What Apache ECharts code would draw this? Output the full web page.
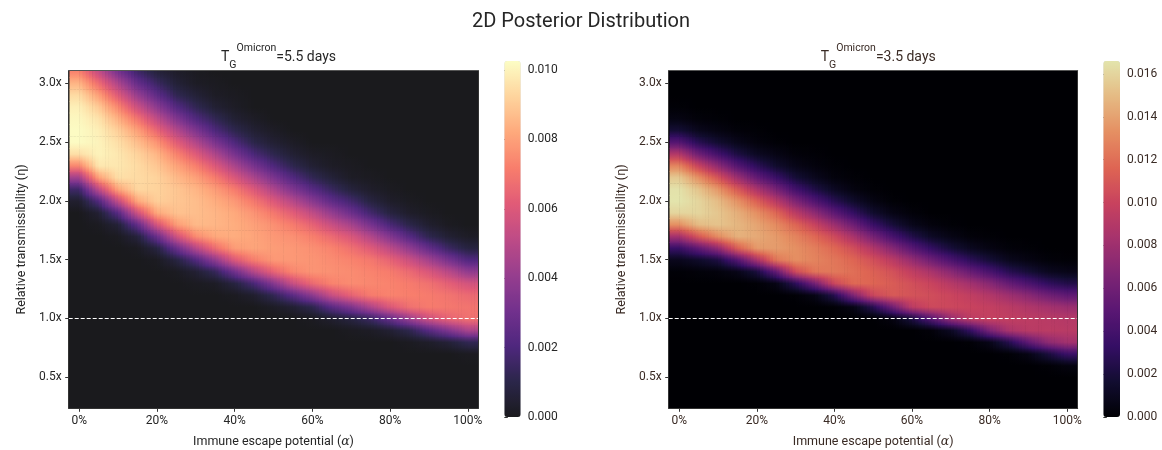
<!DOCTYPE html>
<html><head><meta charset="utf-8">
<script src="https://cdn.jsdelivr.net/npm/echarts@6/dist/echarts.min.js"></script>
<style>html,body{margin:0;padding:0;background:#fff}#chart{width:1162px;height:450px}</style>
</head><body><div id="chart"></div>
<script>
// ---------- data ----------
const mainTitle = '2D Posterior Distribution';
const panelDays = ['5.5', '3.5'];
const escapeLevels = [0,0.05,0.1,0.15,0.2,0.25,0.3,0.35,0.4,0.45,0.5,0.55,0.6,0.65,0.7,0.75,0.8,0.85,0.9,0.95,1.0];
const etaLevels = [0.3,0.4,0.5,0.6,0.7,0.8,0.9,1.0,1.1,1.2,1.3,1.4,1.5,1.6,1.7,1.8,1.9,2.0,2.1,2.2,2.3,2.4,2.5,2.6,2.7,2.8,2.9,3.0,3.1];
const xTickValues = [0,0.2,0.4,0.6,0.8,1.0];
const yTickValues = [0.5,1.0,1.5,2.0,2.5,3.0];
const colorbarTicksLeft = [0,0.002,0.004,0.006,0.008,0.010];
const colorbarTicksRight = [0,0.002,0.004,0.006,0.008,0.010,0.012,0.014,0.016];
const colorbarMaxLeft = 0.01026;
const colorbarMaxRight = 0.0166;
const referenceEta = 1.0;
const DENSITY_UNIT = 1e-4;
// posterior density (units of 1e-4), one column per escape level, rows follow etaLevels
const densityLeft = [
[0,0,0,0,0,0,0,0,0,0,0,0,0,0,0,0,0,4,16,44,74,95,102,102,101,99,94,85,73],
[0,0,0,0,0,0,0,0,0,0,0,0,0,0,0,1,5,21,51,80,97,100,100,99,96,90,80,67,53],
[0,0,0,0,0,0,0,0,0,0,0,0,0,0,1,6,23,53,81,95,97,97,95,91,84,74,61,47,32],
[0,0,0,0,0,0,0,0,0,0,0,0,0,1,7,26,56,82,93,94,94,92,87,80,69,55,41,27,16],
[0,0,0,0,0,0,0,0,0,0,0,0,1,8,28,58,82,91,92,92,89,85,77,65,52,38,25,15,7],
[0,0,0,0,0,0,0,0,0,0,0,1,8,28,56,79,88,89,89,86,81,73,62,49,35,22,12,6,3],
[0,0,0,0,0,0,0,0,0,0,1,5,21,49,75,86,87,87,85,80,72,61,48,34,21,12,6,2,1],
[0,0,0,0,0,0,0,0,0,0,2,13,39,67,82,85,85,83,79,71,60,47,33,20,12,5,2,1,0],
[0,0,0,0,0,0,0,0,0,1,8,30,60,79,83,83,82,78,71,59,46,32,20,11,5,2,1,0,0],
[0,0,0,0,0,0,0,0,0,4,19,49,72,81,81,80,77,70,60,46,32,19,10,5,2,0,0,0,0],
[0,0,0,0,0,0,0,0,2,12,36,64,78,79,78,76,70,60,47,33,20,11,5,2,0,0,0,0,0],
[0,0,0,0,0,0,0,0,5,24,54,74,78,78,76,71,62,49,34,21,11,5,2,0,0,0,0,0,0],
[0,0,0,0,0,0,0,1,11,38,66,77,77,76,72,64,52,37,23,12,5,2,0,0,0,0,0,0,0],
[0,0,0,0,0,0,0,4,24,54,73,76,75,73,66,54,40,25,14,6,2,1,0,0,0,0,0,0,0],
[0,0,0,0,0,0,1,8,34,64,75,75,73,68,59,45,29,17,7,2,1,0,0,0,0,0,0,0,0],
[0,0,0,0,0,0,2,15,47,71,74,73,70,61,48,32,17,8,3,1,0,0,0,0,0,0,0,0,0],
[0,0,0,0,0,0,5,27,60,73,73,71,64,51,35,19,8,3,1,0,0,0,0,0,0,0,0,0,0],
[0,0,0,0,0,1,11,42,68,72,71,66,55,39,22,10,3,1,0,0,0,0,0,0,0,0,0,0,0],
[0,0,0,0,0,3,23,56,71,71,68,59,44,26,11,4,1,0,0,0,0,0,0,0,0,0,0,0,0],
[0,0,0,0,0,6,34,64,70,69,63,50,32,15,5,1,0,0,0,0,0,0,0,0,0,0,0,0,0],
[0,0,0,0,1,12,46,68,69,66,57,39,21,8,2,0,0,0,0,0,0,0,0,0,0,0,0,0,0]
];
const densityRight = [
[0,0,0,0,0,0,0,0,0,0,0,1,9,35,83,133,160,166,165,155,129,89,47,18,5,1,0,0,0],
[0,0,0,0,0,0,0,0,0,0,0,2,14,53,110,150,160,160,153,133,99,59,27,9,2,0,0,0,0],
[0,0,0,0,0,0,0,0,0,0,0,3,22,75,132,153,154,150,136,108,73,39,16,5,1,0,0,0,0],
[0,0,0,0,0,0,0,0,0,0,0,7,47,113,146,148,145,134,111,79,47,22,8,2,0,0,0,0,0],
[0,0,0,0,0,0,0,0,0,0,1,20,84,137,143,141,133,114,86,54,29,11,3,1,0,0,0,0,0],
[0,0,0,0,0,0,0,0,0,0,6,54,123,138,137,131,117,92,63,35,15,6,1,0,0,0,0,0,0],
[0,0,0,0,0,0,0,0,0,1,29,104,133,133,128,116,93,66,39,18,7,2,0,0,0,0,0,0,0],
[0,0,0,0,0,0,0,0,0,6,62,123,128,126,117,99,73,45,23,9,3,1,0,0,0,0,0,0,0],
[0,0,0,0,0,0,0,0,1,26,102,124,123,117,103,79,51,27,11,3,1,0,0,0,0,0,0,0,0],
[0,0,0,0,0,0,0,0,6,67,118,120,116,105,84,58,32,14,4,1,0,0,0,0,0,0,0,0,0],
[0,0,0,0,0,0,0,0,27,102,116,114,106,88,62,35,15,5,1,0,0,0,0,0,0,0,0,0,0],
[0,0,0,0,0,0,0,4,60,111,112,107,93,69,41,19,6,1,0,0,0,0,0,0,0,0,0,0,0],
[0,0,0,0,0,0,0,21,94,108,106,96,76,49,24,8,2,0,0,0,0,0,0,0,0,0,0,0,0],
[0,0,0,0,0,0,2,48,103,105,100,85,59,32,12,3,0,0,0,0,0,0,0,0,0,0,0,0,0],
[0,0,0,0,0,0,11,77,102,101,91,71,43,19,6,1,0,0,0,0,0,0,0,0,0,0,0,0,0],
[0,0,0,0,0,1,32,94,100,96,82,56,29,10,2,0,0,0,0,0,0,0,0,0,0,0,0,0,0],
[0,0,0,0,0,7,64,98,97,89,70,42,18,5,1,0,0,0,0,0,0,0,0,0,0,0,0,0,0],
[0,0,0,0,1,26,86,96,93,80,55,27,9,2,0,0,0,0,0,0,0,0,0,0,0,0,0,0,0],
[0,0,0,0,6,52,92,94,88,71,43,18,5,1,0,0,0,0,0,0,0,0,0,0,0,0,0,0,0],
[0,0,0,1,20,73,93,92,83,60,31,10,2,0,0,0,0,0,0,0,0,0,0,0,0,0,0,0,0],
[0,0,0,4,36,82,92,90,78,52,24,7,1,0,0,0,0,0,0,0,0,0,0,0,0,0,0,0,0]
];

// ---------- styles ----------
const FONT = "Roboto, 'Noto Sans', sans-serif";
const magmaLeft = ['#1a1a1d','#2b264a','#4f277e','#73318d','#973e8e','#be4b86','#e15b77','#f87e6c','#fea97c','#fed49d','#fcfdc5'];
const magmaRight = ['#000004','#120d31','#350e65','#5a1773','#7e2574','#a5326d','#c8425e','#de6553','#e58f62','#e5ba83','#e3e4ac'];
const textLeft = '#262626';
const textRight = '#3a2b25';
const SUBSTRIPS = 6; // drawing smoothness inside each cell (like imshow bilinear)

const cellW = escapeLevels[1] - escapeLevels[0];
const cellH = etaLevels[1] - etaLevels[0];

function hexToRgb(h) { return [parseInt(h.slice(1,3),16), parseInt(h.slice(3,5),16), parseInt(h.slice(5,7),16)]; }
function makeColorFn(stops, vmax) {
  const rgb = stops.map(hexToRgb);
  return function (v) {
    let t = Math.max(0, Math.min(1, v / vmax)) * (rgb.length - 1);
    const i = Math.min(rgb.length - 2, Math.floor(t));
    const f = t - i;
    const c = [0,1,2].map(j => Math.round(rgb[i][j] + (rgb[i+1][j] - rgb[i][j]) * f));
    return 'rgb(' + c.join(',') + ')';
  };
}

function buildCells(columns) {
  const out = [];
  columns.forEach((col, i) => col.forEach((v, k) => out.push([escapeLevels[i], etaLevels[k], v * DENSITY_UNIT])));
  return out;
}
function makeRenderer(columns, stops, vmax) {
  const nC = columns.length, nR = etaLevels.length;
  const colorFor = makeColorFn(stops, vmax);
  const val = (i, k) => columns[Math.min(nC - 1, Math.max(0, i))][Math.min(nR - 1, Math.max(0, k))] * DENSITY_UNIT;
  return function (params, api) {
    const idx = params.dataIndex;
    const i = Math.floor(idx / nR), k = idx % nR;
    const x = api.value(0), y = api.value(1);
    const a = api.coord([x - cellW / 2, y + cellH / 2]);
    const b = api.coord([x + cellW / 2, y - cellH / 2]);
    const w = (b[0] - a[0]) / SUBSTRIPS;
    const children = [];
    for (let s = 0; s < SUBSTRIPS; s++) {
      const t = (s + 0.5) / SUBSTRIPS - 0.5;
      const j = t < 0 ? i - 1 : i + 1;
      const f = Math.abs(t);
      const blend = kk => val(i, kk) * (1 - f) + val(j, kk) * f;
      const mid = blend(k), up = (mid + blend(k + 1)) / 2, down = (mid + blend(k - 1)) / 2;
      children.push({
        type: 'rect',
        shape: { x: a[0] + s * w, y: a[1], width: w + 0.6, height: b[1] - a[1] + 0.6 },
        style: { fill: new echarts.graphic.LinearGradient(0, 0, 0, 1, [
          { offset: 0, color: colorFor(up) }, { offset: 0.5, color: colorFor(mid) }, { offset: 1, color: colorFor(down) }]) }
      });
    }
    return { type: 'group', children: children };
  };
}

const grids = [
  { left: 68.7, top: 70.7, width: 409.6, height: 337.6, show: true, backgroundColor: magmaLeft[0], borderWidth: 0, outerBoundsMode: 'none', containLabel: false },
  { left: 668.7, top: 70.7, width: 409, height: 337.6, show: true, backgroundColor: magmaRight[0], borderWidth: 0, outerBoundsMode: 'none', containLabel: false },
  { left: 504.3, top: 61, width: 16.4, height: 356, outerBoundsMode: 'none', containLabel: false },
  { left: 1103.3, top: 61, width: 16.7, height: 356, outerBoundsMode: 'none', containLabel: false }
];

function mainX(gi, color) {
  return [{
    type: 'value', gridIndex: gi, min: -0.027, max: 1.027, z: 5,
    axisLine: { show: true, onZero: false, lineStyle: { color: '#333', width: 1 } },
    axisTick: { show: true, length: 3.5, customValues: xTickValues, lineStyle: { color: '#333' } },
    axisLabel: { customValues: xTickValues, formatter: v => Math.round(v * 100) + '%', color: color, fontSize: 12, fontFamily: FONT, margin: 7 },
    splitLine: { show: false },
    name: 'Immune escape potential ({i|α})', nameLocation: 'middle', nameGap: 27,
    nameTextStyle: { color: color, fontSize: 12.5, fontFamily: FONT, rich: { i: { fontStyle: 'italic', fontSize: 12.5, fontFamily: 'DejaVu Serif', color: color } } }
  }, {
    type: 'value', gridIndex: gi, position: 'top', min: -0.027, max: 1.027, z: 5,
    axisLine: { show: true, onZero: false, lineStyle: { color: '#555', width: 1 } },
    axisTick: { show: false }, axisLabel: { show: false }, splitLine: { show: false }
  }];
}
function mainY(gi, color) {
  return [{
    type: 'value', gridIndex: gi, min: 0.236, max: 3.107, z: 5,
    axisLine: { show: true, onZero: false, lineStyle: { color: '#333', width: 1 } },
    axisTick: { show: true, length: 3.5, customValues: yTickValues, lineStyle: { color: '#333' } },
    axisLabel: { customValues: yTickValues, formatter: v => v.toFixed(1) + 'x', color: color, fontSize: 12, fontFamily: FONT, margin: 7 },
    splitLine: { show: false },
    name: 'Relative transmissibility (η)', nameLocation: 'middle', nameGap: 40,
    nameTextStyle: { color: color, fontSize: 12.5, fontFamily: FONT }
  }, {
    type: 'value', gridIndex: gi, position: 'right', min: 0.236, max: 3.107, z: 5,
    axisLine: { show: true, onZero: false, lineStyle: { color: '#333', width: 1 } },
    axisTick: { show: false }, axisLabel: { show: false }, splitLine: { show: false }
  }];
}
function cbarY(gi, max, ticks, color) {
  return {
    type: 'value', gridIndex: gi, position: 'right', min: 0, max: max,
    axisLine: { show: false },
    axisTick: { show: true, length: 3.5, customValues: ticks, lineStyle: { color: '#333' } },
    axisLabel: { customValues: ticks, formatter: v => v.toFixed(3), color: color, fontSize: 12, fontFamily: FONT, margin: 7 },
    splitLine: { show: false }
  };
}

function panelTitle(days, center, color) {
  return {
    text: '{t|T}{sub|G}{sup|Omicron}{t|=' + days + ' days}',
    left: center, top: 38, textAlign: 'center',
    textStyle: { fontWeight: 'normal', rich: {
      t: { fontSize: 14, lineHeight: 28, verticalAlign: 'middle', fontFamily: FONT, fontWeight: 'normal', color: color },
      sub: { fontSize: 10.5, lineHeight: 18, verticalAlign: 'bottom', fontFamily: FONT, fontWeight: 'normal', color: color },
      sup: { fontSize: 10.5, lineHeight: 14, verticalAlign: 'top', fontFamily: FONT, fontWeight: 'normal', color: color }
    } }
  };
}

const refLine = {
  silent: true, symbol: 'none', animation: false,
  label: { show: false },
  lineStyle: { color: '#ffffff', type: [4, 2], width: 1.2 },
  data: [{ yAxis: referenceEta }]
};

const visualCommon = { type: 'continuous', dimension: 2, min: 0, calculable: false, hoverLink: false,
  padding: 0, orient: 'vertical', indicatorSize: 0, handleSize: 0, itemGap: 0 };

const option = {
  backgroundColor: '#ffffff',
  animation: false,
  title: [
    { text: mainTitle, left: 'center', top: 7, textStyle: { fontSize: 20, fontWeight: 'normal', fontFamily: FONT, color: '#262626' } },
    panelTitle(panelDays[0], 273.5, textLeft),
    panelTitle(panelDays[1], 873.2, textRight)
  ],
  grid: grids,
  xAxis: [...mainX(0, textLeft), ...mainX(1, textRight),
    { type: 'value', gridIndex: 2, show: false, min: 0, max: 1 },
    { type: 'value', gridIndex: 3, show: false, min: 0, max: 1 }],
  yAxis: [...mainY(0, textLeft), ...mainY(1, textRight),
    cbarY(2, colorbarMaxLeft, colorbarTicksLeft, textLeft),
    cbarY(3, colorbarMaxRight, colorbarTicksRight, textRight)],
  visualMap: [
    Object.assign({}, visualCommon, { seriesIndex: 0, max: colorbarMaxLeft, inRange: { color: magmaLeft },
      left: 504.3, top: 61, itemWidth: 16.4, itemHeight: 356 }),
    Object.assign({}, visualCommon, { seriesIndex: 1, max: colorbarMaxRight, inRange: { color: magmaRight },
      left: 1103.3, top: 61, itemWidth: 16.7, itemHeight: 356 })
  ],
  series: [
    { type: 'custom', name: 'T=5.5', xAxisIndex: 0, yAxisIndex: 0, data: buildCells(densityLeft),
      encode: { x: 0, y: 1 }, renderItem: makeRenderer(densityLeft, magmaLeft, colorbarMaxLeft),
      clip: true, silent: true, markLine: refLine },
    { type: 'custom', name: 'T=3.5', xAxisIndex: 2, yAxisIndex: 2, data: buildCells(densityRight),
      encode: { x: 0, y: 1 }, renderItem: makeRenderer(densityRight, magmaRight, colorbarMaxRight),
      clip: true, silent: true, markLine: refLine }
  ]
};

const chart = echarts.init(document.getElementById('chart'), null, { width: 1162, height: 450 });
chart.setOption(option);
</script>
</body></html>
